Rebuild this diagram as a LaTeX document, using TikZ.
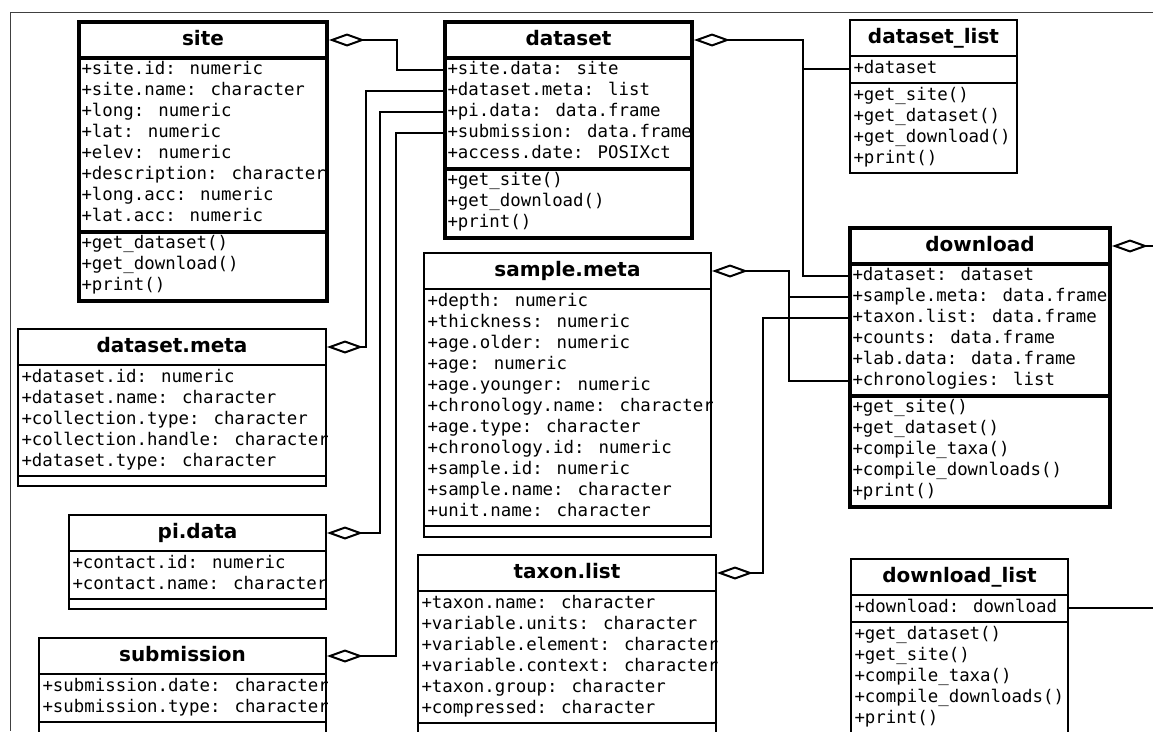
\documentclass[tikz,border=0pt]{standalone}
\usepackage{fontspec}
\usepackage{tikz}
\usetikzlibrary{arrows.meta}
\newfontfamily\headfamily{DejaVu Sans}
\newfontfamily\memberfamily{DejaVu Sans Mono}

\tikzset{
  classhead/.style={draw, line width=2pt, anchor=north west, inner sep=0pt, minimum height=36pt,
    text height=15pt, text depth=4pt, font=\headfamily\bfseries\fontsize{20}{24}\selectfont},
  classpart/.style={draw, line width=2pt, anchor=north west, inner sep=0pt},
  heavy/.style={line width=4pt},
  member/.style={anchor=west, inner xsep=4.5pt, inner ysep=0pt, outer sep=0pt,
    text height=13pt, text depth=4pt, font=\memberfamily\fontsize{17.4}{21}\selectfont},
  aggr/.style={line width=2pt, arrows={Diamond[open,length=36pt,width=13pt]-}},
  link/.style={line width=2pt},
}

\begin{document}
\begin{tikzpicture}[x=1pt,y=-1pt]
    \useasboundingbox (0,0) rectangle (1153,731);
    \clip (0,0) rectangle (1153,731);

    %frame
    \draw[black!75, line width=1pt] (1153,12) -- (10,12) -- (10,731);

    %site
    \node[classhead, heavy, minimum width=248] (site) at (77,20) {site};
    \node[classpart, heavy, minimum width=248, minimum height=174] (site-attr) at (77,56) {};
    \node[classpart, heavy, minimum width=248, minimum height=69] (site-ops) at (77,230) {};
    \begin{scope}
    \clip (site-attr.north west) rectangle (site-attr.south east);
    \foreach \m [count=\i] in {+site.id: numeric, +site.name: character, +long: numeric, +lat: numeric,
        +elev: numeric, +description: character, +long.acc: numeric, +lat.acc: numeric}
        \node[member] (site-\i) at (77,{59+(\i-0.5)*21}) {\m};
    \end{scope}
    \foreach \m [count=\i] in {+get\_dataset(), +get\_download(), +print()}
        \node[member] (site-m\i) at (77,{233+(\i-0.5)*21}) {\m};

    %dataset
    \node[classhead, heavy, minimum width=247] (dataset) at (443,20) {dataset};
    \node[classpart, heavy, minimum width=247, minimum height=111] (dataset-attr) at (443,56) {};
    \node[classpart, heavy, minimum width=247, minimum height=69] (dataset-ops) at (443,167) {};
    \begin{scope}
    \clip (dataset-attr.north west) rectangle (dataset-attr.south east);
    \foreach \m [count=\i] in {+site.data: site, +dataset.meta: list, +pi.data: data.frame,
        +submission: data.frame, +access.date: POSIXct}
        \node[member] (dataset-\i) at (443,{59+(\i-0.5)*21}) {\m};
    \end{scope}
    \foreach \m [count=\i] in {+get\_site(), +get\_download(), +print()}
        \node[member] (dataset-m\i) at (443,{170+(\i-0.5)*21}) {\m};

    %dataset_list
    \node[classhead, minimum width=167] (dslist) at (849,19) {dataset\_list};
    \node[classpart, minimum width=167, minimum height=27] (dslist-attr) at (849,55) {};
    \node[classpart, minimum width=167, minimum height=90] (dslist-ops) at (849,82) {};
    \node[member] (dslist-1) at (849,68.5) {+dataset};
    \foreach \m [count=\i] in {+get\_site(), +get\_dataset(), +get\_download(), +print()}
        \node[member] (dslist-m\i) at (849,{85+(\i-0.5)*21}) {\m};

    %download
    \node[classhead, heavy, minimum width=260] (download) at (848,226) {download};
    \node[classpart, heavy, minimum width=260, minimum height=132] (download-attr) at (848,262) {};
    \node[classpart, heavy, minimum width=260, minimum height=111] (download-ops) at (848,394) {};
    \begin{scope}
    \clip (download-attr.north west) rectangle (download-attr.south east);
    \foreach \m [count=\i] in {+dataset: dataset, +sample.meta: data.frame, +taxon.list: data.frame,
        +counts: data.frame, +lab.data: data.frame, +chronologies: list}
        \node[member] (download-\i) at (848,{265+(\i-0.5)*21}) {\m};
    \end{scope}
    \foreach \m [count=\i] in {+get\_site(), +get\_dataset(), +compile\_taxa(), +compile\_downloads(), +print()}
        \node[member] (download-m\i) at (848,{397+(\i-0.5)*21}) {\m};

    %sample.meta
    \node[classhead, minimum width=287] (smeta) at (423,252) {sample.meta};
    \node[classpart, minimum width=287, minimum height=237] (smeta-attr) at (423,288) {};
    \node[classpart, minimum width=287, minimum height=11] (smeta-ops) at (423,525) {};
    \begin{scope}
    \clip (smeta-attr.north west) rectangle (smeta-attr.south east);
    \foreach \m [count=\i] in {+depth: numeric, +thickness: numeric, +age.older: numeric, +age: numeric,
        +age.younger: numeric, +chronology.name: character, +age.type: character, +chronology.id: numeric,
        +sample.id: numeric, +sample.name: character, +unit.name: character}
        \node[member] (smeta-\i) at (423,{291+(\i-0.5)*21}) {\m};
    \end{scope}

    %taxon.list
    \node[classhead, minimum width=298] (taxon) at (417,554) {taxon.list};
    \node[classpart, minimum width=298, minimum height=132] (taxon-attr) at (417,590) {};
    \node[classpart, minimum width=298, minimum height=30] (taxon-ops) at (417,722) {};
    \begin{scope}
    \clip (taxon-attr.north west) rectangle (taxon-attr.south east);
    \foreach \m [count=\i] in {+taxon.name: character, +variable.units: character, +variable.element: character,
        +variable.context: character, +taxon.group: character, +compressed: character}
        \node[member] (taxon-\i) at (417,{593+(\i-0.5)*21}) {\m};
    \end{scope}

    %dataset.meta
    \node[classhead, minimum width=308] (dmeta) at (17,328) {dataset.meta};
    \node[classpart, minimum width=308, minimum height=111] (dmeta-attr) at (17,364) {};
    \node[classpart, minimum width=308, minimum height=10] (dmeta-ops) at (17,475) {};
    \begin{scope}
    \clip (dmeta-attr.north west) rectangle (dmeta-attr.south east);
    \foreach \m [count=\i] in {+dataset.id: numeric, +dataset.name: character, +collection.type: character,
        +collection.handle: character, +dataset.type: character}
        \node[member] (dmeta-\i) at (17,{367+(\i-0.5)*21}) {\m};
    \end{scope}

    %pi.data
    \node[classhead, minimum width=257] (pidata) at (68,514) {pi.data};
    \node[classpart, minimum width=257, minimum height=48] (pidata-attr) at (68,550) {};
    \node[classpart, minimum width=257, minimum height=10] (pidata-ops) at (68,598) {};
    \begin{scope}
    \clip (pidata-attr.north west) rectangle (pidata-attr.south east);
    \foreach \m [count=\i] in {+contact.id: numeric, +contact.name: character}
        \node[member] (pidata-\i) at (68,{553+(\i-0.5)*21}) {\m};
    \end{scope}

    %submission
    \node[classhead, minimum width=287] (subm) at (38,637) {submission};
    \node[classpart, minimum width=287, minimum height=48] (subm-attr) at (38,673) {};
    \node[classpart, minimum width=287, minimum height=30] (subm-ops) at (38,721) {};
    \begin{scope}
    \clip (subm-attr.north west) rectangle (subm-attr.south east);
    \foreach \m [count=\i] in {+submission.date: character, +submission.type: character}
        \node[member] (subm-\i) at (38,{676+(\i-0.5)*21}) {\m};
    \end{scope}

    %download_list
    \node[classhead, minimum width=217] (dllist) at (850,558) {download\_list};
    \node[classpart, minimum width=217, minimum height=27] (dllist-attr) at (850,594) {};
    \node[classpart, minimum width=217, minimum height=111] (dllist-ops) at (850,621) {};
    \node[member] (dllist-1) at (850,607.5) {+download: download};
    \foreach \m [count=\i] in {+get\_dataset(), +get\_site(), +compile\_taxa(), +compile\_downloads(), +print()}
        \node[member] (dllist-m\i) at (850,{624+(\i-0.5)*21}) {\m};

    %aggregations
    \draw[aggr] (site.east) -| ([xshift=-46pt]dataset-1.west) -- (dataset-1.west);
    \draw[aggr] (dmeta.east) -| ([xshift=-77pt]dataset-2.west) -- (dataset-2.west);
    \draw[aggr] (pidata.east) -| ([xshift=-63pt]dataset-3.west) -- (dataset-3.west);
    \draw[aggr] (subm.east) -| ([xshift=-47pt]dataset-4.west) -- (dataset-4.west);
    \draw[aggr] (dataset.east) -| ([xshift=-45pt]download-1.west) -- (download-1.west);
    \draw[link] (dslist-1.west) -- ++(-46,0);
    \draw[aggr] (smeta.east) -| ([xshift=-59pt]download-6.west) -- (download-6.west);
    \draw[link] (download-2.west) -- ++(-59,0);
    \draw[aggr] (taxon.east) -| ([xshift=-85pt]download-3.west) -- (download-3.west);
    \draw[aggr] (download.east) -- ++(60,0);
    \draw[link] (dllist-attr.east |- dllist-1.west) -- ++(100,0);
\end{tikzpicture}
\end{document}
